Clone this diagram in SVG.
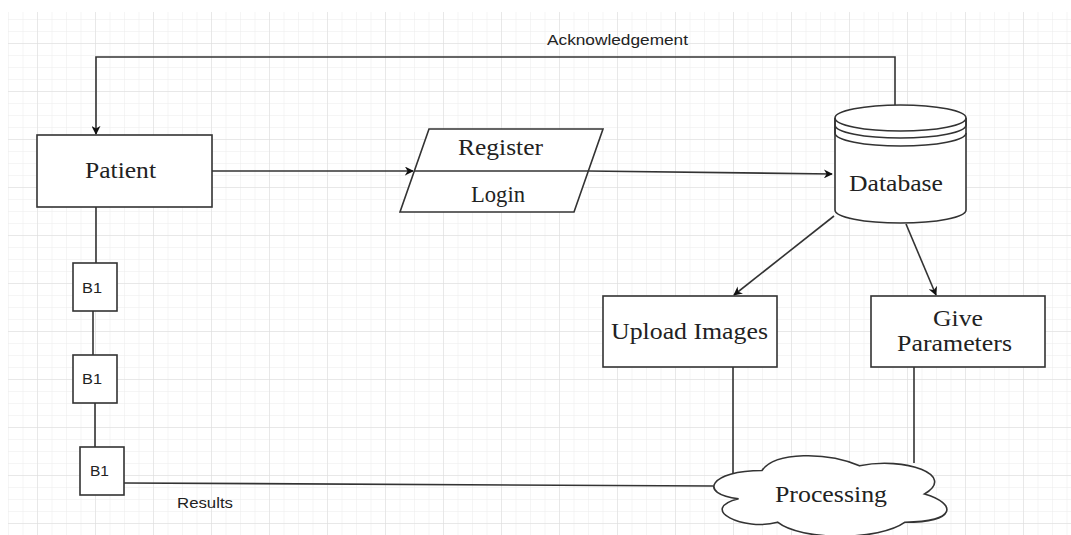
<svg xmlns="http://www.w3.org/2000/svg" width="1071" height="535" viewBox="0 0 1071 535">
<style>
.shape{fill:#ffffff;stroke:#333333;stroke-width:1.6}
.edge{fill:none;stroke:#333333;stroke-width:1.6}
.serif{font-family:"Liberation Serif","Times New Roman",serif;font-size:23px;fill:#222222}
.sans{font-family:"Liberation Sans",Arial,sans-serif;fill:#222222}
</style>
<defs>
<pattern id="minor" patternUnits="userSpaceOnUse" x="37" y="43" width="14.5" height="12">
<path d="M0,0 V12 M0,0 H14.5" fill="none" stroke="#ececec" stroke-width="1"/>
</pattern>
<pattern id="major" patternUnits="userSpaceOnUse" x="37" y="43" width="58" height="48">
<path d="M0,0 V48 M0,0 H58" fill="none" stroke="#dcdcdc" stroke-width="1"/>
</pattern>
<marker id="arrow" viewBox="0 0 10 10" refX="9" refY="5" markerWidth="9" markerHeight="9" markerUnits="userSpaceOnUse" orient="auto">
<path d="M0,0 L10,5 L0,10 L3,5 Z" fill="#111111"/>
</marker>
</defs>
<rect x="0" y="0" width="1071" height="535" fill="#ffffff"/>
<rect x="8" y="12" width="1063" height="523" fill="url(#minor)"/>
<rect x="8" y="12" width="1063" height="523" fill="url(#major)"/>

<g id="connectors">
<polyline class="edge" points="895,105 895,57 96,57 96,134" marker-end="url(#arrow)"/>
<line class="edge" x1="212" y1="171" x2="413" y2="171" marker-end="url(#arrow)"/>
<line class="edge" x1="588" y1="171" x2="832" y2="174" marker-end="url(#arrow)"/>
<line class="edge" x1="834" y1="216" x2="734" y2="295" marker-end="url(#arrow)"/>
<line class="edge" x1="906" y1="224" x2="936" y2="295" marker-end="url(#arrow)"/>
<line class="edge" x1="733" y1="367" x2="733" y2="474"/>
<line class="edge" x1="914" y1="367" x2="914" y2="463"/>
<line class="edge" x1="96" y1="207" x2="96" y2="263"/>
<line class="edge" x1="93" y1="311" x2="93" y2="355"/>
<line class="edge" x1="95" y1="403" x2="95" y2="447"/>
<line class="edge" x1="124" y1="483" x2="713" y2="486"/>
<text class="sans" x="547" y="45" font-size="15" textLength="141" lengthAdjust="spacingAndGlyphs">Acknowledgement</text>
<text class="sans" x="177" y="508" font-size="14" textLength="56" lengthAdjust="spacingAndGlyphs">Results</text>
</g>

<g id="patient">
<rect class="shape" x="37" y="135" width="175" height="72"/>
<text class="serif" x="85" y="178" textLength="71" lengthAdjust="spacingAndGlyphs">Patient</text>
</g>

<g id="register-login">
<polygon class="shape" points="429,129 603,129 574,212 400,212"/>
<line class="edge" x1="414" y1="171" x2="588" y2="171"/>
<text class="serif" x="458" y="155" textLength="85" lengthAdjust="spacingAndGlyphs">Register</text>
<text class="serif" x="471" y="202" font-size="21" textLength="54" lengthAdjust="spacingAndGlyphs">Login</text>
</g>

<g id="database">
<path class="shape" d="M835,118 A65.5,13 0 0 1 966,118 V210 A65.5,13 0 0 1 835,210 Z"/>
<path class="edge" d="M835,118 A65.5,13 0 0 0 966,118 M835,118 V125 A65.5,13 0 0 0 966,125 V118 M835,125 V133 A65.5,13 0 0 0 966,133"/>
<text class="serif" x="849" y="191" textLength="94" lengthAdjust="spacingAndGlyphs">Database</text>
</g>

<g id="upload-images">
<rect class="shape" x="603" y="296" width="174" height="71"/>
<text class="serif" x="611" y="339" textLength="157" lengthAdjust="spacingAndGlyphs">Upload Images</text>
</g>

<g id="give-parameters">
<rect class="shape" x="871" y="296" width="174" height="71"/>
<text class="serif" x="933" y="326" textLength="50" lengthAdjust="spacingAndGlyphs">Give</text>
<text class="serif" x="897" y="351" textLength="115" lengthAdjust="spacingAndGlyphs">Parameters</text>
</g>

<g id="processing">
<path class="shape" d="M762,470.5 C710,470.5 697,494 738.6,498.7 C697,509 743.8,531.6 777.6,522.2 C801,541 879,541 905,522.2 C957,522.2 957,503.4 924.5,494 C957,475.2 905,456.4 859.5,465.8 C827,451.7 775,451.7 762,470.5 Z"/>
<text class="serif" x="775" y="502" textLength="112" lengthAdjust="spacingAndGlyphs">Processing</text>
</g>

<g id="b1-1">
<rect class="shape" x="73" y="263" width="44" height="48"/>
<text class="sans" x="82" y="293" font-size="15" textLength="20" lengthAdjust="spacingAndGlyphs">B1</text>
</g>
<g id="b1-2">
<rect class="shape" x="73" y="355" width="44" height="48"/>
<text class="sans" x="82" y="384" font-size="15" textLength="20" lengthAdjust="spacingAndGlyphs">B1</text>
</g>
<g id="b1-3">
<rect class="shape" x="80" y="447" width="44" height="48"/>
<text class="sans" x="90" y="476" font-size="15" textLength="19" lengthAdjust="spacingAndGlyphs">B1</text>
</g>
</svg>
